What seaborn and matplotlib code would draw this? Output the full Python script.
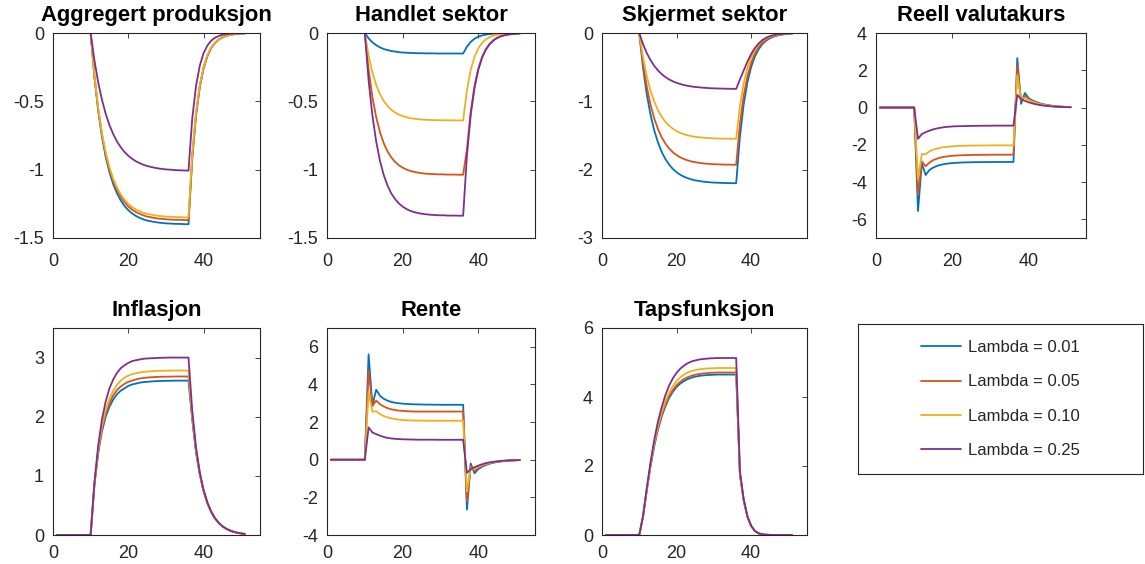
import matplotlib
matplotlib.use("Agg")
import matplotlib.pyplot as plt
import pandas as pd
import seaborn as sns
from matplotlib.lines import Line2D
from matplotlib.ticker import FuncFormatter

# Quarters of the simulation
periods = list(range(1, 52))

lambda_labels = ["Lambda = 0.01", "Lambda = 0.05", "Lambda = 0.10", "Lambda = 0.25"]
line_colors = ["#0072BD", "#D95319", "#EDB120", "#7E2F8E"]

# ---- Aggregert produksjon ----
prod_001 = [0, 0, 0, 0, 0, 0, 0, 0, 0, 0,
            -0.320, -0.567, -0.759, -0.906, -1.018, -1.106, -1.173, -1.225, -1.266, -1.296,
            -1.320, -1.338, -1.352, -1.364, -1.372, -1.378, -1.383, -1.387, -1.390, -1.393,
            -1.394, -1.396, -1.397, -1.397, -1.399, -1.399,
            -0.920, -0.605, -0.398, -0.260, -0.171, -0.112, -0.074, -0.049, -0.032, -0.021,
            -0.014, -0.009, -0.006, -0.004, -0.003]
prod_005 = [0, 0, 0, 0, 0, 0, 0, 0, 0, 0,
            -0.314, -0.555, -0.743, -0.886, -0.996, -1.082, -1.148, -1.199, -1.238, -1.269,
            -1.292, -1.310, -1.323, -1.334, -1.343, -1.348, -1.354, -1.358, -1.360, -1.363,
            -1.365, -1.366, -1.367, -1.367, -1.369, -1.369,
            -0.900, -0.592, -0.389, -0.255, -0.167, -0.110, -0.073, -0.048, -0.032, -0.021,
            -0.014, -0.009, -0.005, -0.004, -0.003]
prod_010 = [0, 0, 0, 0, 0, 0, 0, 0, 0, 0,
            -0.309, -0.547, -0.732, -0.873, -0.981, -1.067, -1.131, -1.181, -1.220, -1.250,
            -1.273, -1.291, -1.304, -1.315, -1.323, -1.328, -1.334, -1.338, -1.341, -1.343,
            -1.345, -1.346, -1.347, -1.347, -1.349, -1.349,
            -0.887, -0.583, -0.383, -0.251, -0.165, -0.108, -0.072, -0.047, -0.031, -0.020,
            -0.014, -0.009, -0.005, -0.004, -0.003]
prod_025 = [0, 0, 0, 0, 0, 0, 0, 0, 0, 0,
            -0.199, -0.360, -0.488, -0.591, -0.674, -0.740, -0.794, -0.836, -0.871, -0.898,
            -0.920, -0.938, -0.952, -0.964, -0.973, -0.980, -0.986, -0.991, -0.995, -0.998,
            -1.000, -1.002, -1.004, -1.005, -1.006, -1.007,
            -0.625, -0.387, -0.239, -0.148, -0.092, -0.057, -0.035, -0.022, -0.013, -0.008,
            -0.005, -0.003, -0.002, -0.001, -0.001]

# ---- Handlet sektor ----
trad_001 = [0, 0, 0, 0, 0, 0, 0, 0, 0, 0,
            -0.039, -0.068, -0.089, -0.105, -0.117, -0.125, -0.132, -0.136, -0.140, -0.143,
            -0.144, -0.146, -0.147, -0.148, -0.148, -0.149, -0.149, -0.149, -0.150, -0.150,
            -0.150, -0.150, -0.150, -0.150, -0.150, -0.150,
            -0.100, -0.065, -0.042, -0.027, -0.018, -0.012, -0.008, -0.005, -0.003, -0.002,
            -0.001, -0.001, 0, 0, 0]
trad_005 = [0, 0, 0, 0, 0, 0, 0, 0, 0, 0,
            -0.269, -0.468, -0.615, -0.725, -0.806, -0.866, -0.910, -0.943, -0.968, -0.985,
            -0.999, -1.009, -1.016, -1.021, -1.026, -1.029, -1.031, -1.032, -1.034, -1.034,
            -1.035, -1.036, -1.036, -1.036, -1.037, -1.037,
            -0.850, -0.575, -0.390, -0.262, -0.176, -0.118, -0.080, -0.053, -0.035, -0.024,
            -0.016, -0.011, -0.007, -0.005, -0.003]
trad_010 = [0, 0, 0, 0, 0, 0, 0, 0, 0, 0,
            -0.166, -0.289, -0.380, -0.447, -0.497, -0.534, -0.562, -0.582, -0.597, -0.608,
            -0.616, -0.623, -0.627, -0.630, -0.633, -0.635, -0.636, -0.637, -0.638, -0.638,
            -0.639, -0.639, -0.639, -0.639, -0.640, -0.640,
            -0.420, -0.270, -0.175, -0.113, -0.073, -0.047, -0.030, -0.019, -0.012, -0.008,
            -0.005, -0.003, -0.002, -0.001, -0.001]
trad_025 = [0, 0, 0, 0, 0, 0, 0, 0, 0, 0,
            -0.346, -0.603, -0.793, -0.935, -1.039, -1.116, -1.174, -1.215, -1.247, -1.270,
            -1.288, -1.301, -1.310, -1.317, -1.322, -1.326, -1.329, -1.331, -1.333, -1.334,
            -1.334, -1.336, -1.336, -1.336, -1.337, -1.337,
            -0.896, -0.600, -0.402, -0.270, -0.181, -0.122, -0.082, -0.055, -0.036, -0.024,
            -0.016, -0.011, -0.008, -0.005, -0.004]

# ---- Skjermet sektor ----
shel_001 = [0, 0, 0, 0, 0, 0, 0, 0, 0, 0,
            -0.504, -0.891, -1.192, -1.423, -1.599, -1.738, -1.844, -1.925, -1.989, -2.037,
            -2.075, -2.103, -2.125, -2.143, -2.156, -2.165, -2.174, -2.180, -2.185, -2.189,
            -2.191, -2.193, -2.196, -2.196, -2.198, -2.198,
            -1.520, -1.049, -0.726, -0.502, -0.345, -0.240, -0.165, -0.114, -0.079, -0.055,
            -0.037, -0.026, -0.018, -0.013, -0.009]
shel_005 = [0, 0, 0, 0, 0, 0, 0, 0, 0, 0,
            -0.442, -0.782, -1.046, -1.249, -1.403, -1.525, -1.617, -1.689, -1.745, -1.787,
            -1.820, -1.845, -1.864, -1.880, -1.891, -1.899, -1.907, -1.913, -1.916, -1.920,
            -1.922, -1.924, -1.926, -1.926, -1.928, -1.928,
            -1.334, -0.921, -0.637, -0.440, -0.303, -0.210, -0.145, -0.100, -0.069, -0.048,
            -0.033, -0.023, -0.015, -0.012, -0.008]
shel_010 = [0, 0, 0, 0, 0, 0, 0, 0, 0, 0,
            -0.355, -0.628, -0.840, -1.003, -1.127, -1.225, -1.299, -1.356, -1.401, -1.435,
            -1.462, -1.482, -1.497, -1.510, -1.519, -1.525, -1.531, -1.536, -1.539, -1.542,
            -1.544, -1.545, -1.547, -1.547, -1.548, -1.548,
            -1.071, -0.739, -0.512, -0.353, -0.243, -0.169, -0.116, -0.081, -0.056, -0.039,
            -0.026, -0.019, -0.012, -0.009, -0.006]
shel_025 = [0, 0, 0, 0, 0, 0, 0, 0, 0, 0,
            -0.162, -0.292, -0.396, -0.480, -0.547, -0.601, -0.645, -0.679, -0.707, -0.729,
            -0.747, -0.762, -0.773, -0.782, -0.790, -0.795, -0.800, -0.804, -0.808, -0.810,
            -0.812, -0.813, -0.815, -0.816, -0.817, -0.818,
            -0.680, -0.550, -0.420, -0.310, -0.220, -0.155, -0.105, -0.070, -0.047, -0.031,
            -0.020, -0.013, -0.008, -0.005, -0.003]

# ---- Reell valutakurs ----
rer_001 = [0, 0, 0, 0, 0, 0, 0, 0, 0, 0,
           -5.55, -3.00, -3.62, -3.35, -3.22, -3.13, -3.07, -3.03, -3.00, -2.98,
           -2.965, -2.955, -2.945, -2.94, -2.935, -2.93, -2.93, -2.925, -2.925, -2.925,
           -2.92, -2.92, -2.92, -2.92, -2.92, -2.92,
           2.65, 0.20, 0.78, 0.50, 0.38, 0.29, 0.22, 0.17, 0.13, 0.10,
           0.075, 0.057, 0.043, 0.033, 0.025]
rer_005 = [0, 0, 0, 0, 0, 0, 0, 0, 0, 0,
           -4.70, -2.90, -3.15, -2.95, -2.82, -2.74, -2.68, -2.64, -2.61, -2.59,
           -2.575, -2.565, -2.555, -2.55, -2.545, -2.54, -2.54, -2.535, -2.535, -2.53,
           -2.53, -2.53, -2.53, -2.53, -2.53, -2.53,
           2.25, 0.35, 0.62, 0.45, 0.34, 0.26, 0.20, 0.15, 0.115, 0.088,
           0.067, 0.051, 0.039, 0.030, 0.023]
rer_010 = [0, 0, 0, 0, 0, 0, 0, 0, 0, 0,
           -3.85, -2.50, -2.50, -2.35, -2.26, -2.20, -2.15, -2.12, -2.10, -2.08,
           -2.065, -2.055, -2.05, -2.045, -2.04, -2.04, -2.035, -2.035, -2.035, -2.03,
           -2.03, -2.03, -2.03, -2.03, -2.03, -2.03,
           1.75, 0.45, 0.52, 0.40, 0.31, 0.24, 0.18, 0.14, 0.105, 0.080,
           0.061, 0.047, 0.036, 0.027, 0.021]
rer_025 = [0, 0, 0, 0, 0, 0, 0, 0, 0, 0,
           -1.68, -1.42, -1.32, -1.24, -1.17, -1.12, -1.08, -1.05, -1.03, -1.015,
           -1.005, -1.00, -0.995, -0.99, -0.985, -0.98, -0.98, -0.975, -0.975, -0.975,
           -0.97, -0.97, -0.97, -0.97, -0.97, -0.97,
           0.68, 0.45, 0.36, 0.28, 0.22, 0.17, 0.13, 0.10, 0.077, 0.059,
           0.045, 0.035, 0.027, 0.020, 0.016]

# ---- Inflasjon ----
infl_001 = [0, 0, 0, 0, 0, 0, 0, 0, 0, 0,
            0.84, 1.38, 1.75, 2.00, 2.17, 2.29, 2.38, 2.44, 2.48, 2.52,
            2.545, 2.56, 2.575, 2.585, 2.59, 2.595, 2.60, 2.603, 2.605, 2.607,
            2.608, 2.609, 2.61, 2.61, 2.61, 2.61,
            1.95, 1.40, 1.02, 0.74, 0.54, 0.39, 0.28, 0.205, 0.147, 0.105,
            0.075, 0.053, 0.037, 0.026, 0.018]
infl_005 = [0, 0, 0, 0, 0, 0, 0, 0, 0, 0,
            0.85, 1.41, 1.79, 2.05, 2.23, 2.36, 2.45, 2.51, 2.555, 2.59,
            2.61, 2.63, 2.645, 2.655, 2.662, 2.667, 2.671, 2.674, 2.676, 2.677,
            2.678, 2.679, 2.68, 2.68, 2.68, 2.68,
            1.98, 1.42, 1.03, 0.75, 0.545, 0.395, 0.285, 0.207, 0.148, 0.106,
            0.076, 0.054, 0.037, 0.026, 0.018]
infl_010 = [0, 0, 0, 0, 0, 0, 0, 0, 0, 0,
            0.86, 1.44, 1.84, 2.11, 2.30, 2.44, 2.54, 2.61, 2.66, 2.695,
            2.72, 2.735, 2.748, 2.757, 2.764, 2.769, 2.772, 2.775, 2.777, 2.778,
            2.779, 2.78, 2.78, 2.78, 2.78, 2.78,
            2.01, 1.44, 1.04, 0.755, 0.548, 0.397, 0.287, 0.208, 0.149, 0.107,
            0.076, 0.054, 0.038, 0.026, 0.018]
infl_025 = [0, 0, 0, 0, 0, 0, 0, 0, 0, 0,
            0.885, 1.51, 1.95, 2.26, 2.48, 2.63, 2.74, 2.82, 2.87, 2.91,
            2.94, 2.955, 2.967, 2.979, 2.985, 2.988, 2.991, 2.994, 2.997, 2.998,
            3.0, 3.0, 3.0, 3.0, 3.0, 3.0,
            2.10, 1.48, 1.06, 0.765, 0.553, 0.40, 0.289, 0.209, 0.150, 0.107,
            0.077, 0.055, 0.038, 0.026, 0.018]

# ---- Rente ----
rate_001 = [0, 0, 0, 0, 0, 0, 0, 0, 0, 0,
            5.60, 2.90, 3.72, 3.40, 3.24, 3.14, 3.07, 3.03, 3.00, 2.98,
            2.965, 2.955, 2.945, 2.94, 2.935, 2.93, 2.93, 2.925, 2.925, 2.92,
            2.92, 2.92, 2.92, 2.92, 2.92, 2.92,
            -2.65, -0.20, -0.72, -0.50, -0.37, -0.28, -0.21, -0.16, -0.12, -0.09,
            -0.068, -0.050, -0.038, -0.028, -0.020]
rate_005 = [0, 0, 0, 0, 0, 0, 0, 0, 0, 0,
            4.75, 2.85, 3.15, 2.95, 2.83, 2.74, 2.68, 2.64, 2.61, 2.595,
            2.58, 2.57, 2.565, 2.56, 2.56, 2.56, 2.56, 2.56, 2.56, 2.56,
            2.56, 2.56, 2.56, 2.56, 2.56, 2.56,
            -2.20, -0.35, -0.58, -0.43, -0.32, -0.24, -0.18, -0.14, -0.105, -0.08,
            -0.060, -0.045, -0.034, -0.026, -0.020]
rate_010 = [0, 0, 0, 0, 0, 0, 0, 0, 0, 0,
            3.60, 2.55, 2.58, 2.42, 2.32, 2.25, 2.20, 2.16, 2.13, 2.11,
            2.10, 2.09, 2.085, 2.08, 2.075, 2.075, 2.07, 2.07, 2.07, 2.07,
            2.07, 2.07, 2.07, 2.07, 2.07, 2.07,
            -1.70, -0.45, -0.50, -0.38, -0.29, -0.22, -0.17, -0.13, -0.10, -0.075,
            -0.057, -0.043, -0.033, -0.025, -0.019]
rate_025 = [0, 0, 0, 0, 0, 0, 0, 0, 0, 0,
            1.72, 1.45, 1.36, 1.28, 1.21, 1.16, 1.13, 1.11, 1.095, 1.085,
            1.08, 1.075, 1.07, 1.065, 1.065, 1.065, 1.065, 1.065, 1.06, 1.06,
            1.06, 1.06, 1.06, 1.06, 1.06, 1.06,
            -0.70, -0.50, -0.40, -0.31, -0.24, -0.18, -0.14, -0.11, -0.083, -0.064,
            -0.049, -0.037, -0.028, -0.022, -0.017]

# ---- Tapsfunksjon ----
loss_001 = [0, 0, 0, 0, 0, 0, 0, 0, 0, 0,
            0.52, 1.28, 1.98, 2.57, 3.05, 3.43, 3.73, 3.97, 4.15, 4.29,
            4.39, 4.46, 4.52, 4.56, 4.59, 4.61, 4.625, 4.635, 4.64, 4.645,
            4.65, 4.65, 4.65, 4.65, 4.65, 4.65,
            1.75, 1.00, 0.53, 0.26, 0.115, 0.048, 0.019, 0.007, 0.003, 0.001,
            0, 0, 0, 0, 0]
loss_005 = [0, 0, 0, 0, 0, 0, 0, 0, 0, 0,
            0.53, 1.30, 2.00, 2.60, 3.09, 3.48, 3.78, 4.02, 4.20, 4.34,
            4.44, 4.52, 4.575, 4.615, 4.645, 4.665, 4.68, 4.69, 4.70, 4.705,
            4.71, 4.71, 4.71, 4.71, 4.71, 4.71,
            1.78, 1.02, 0.54, 0.265, 0.117, 0.049, 0.019, 0.007, 0.003, 0.001,
            0, 0, 0, 0, 0]
loss_010 = [0, 0, 0, 0, 0, 0, 0, 0, 0, 0,
            0.54, 1.32, 2.03, 2.65, 3.15, 3.55, 3.87, 4.12, 4.31, 4.46,
            4.57, 4.65, 4.71, 4.75, 4.78, 4.80, 4.815, 4.825, 4.83, 4.835,
            4.84, 4.84, 4.84, 4.84, 4.84, 4.84,
            1.80, 1.03, 0.545, 0.267, 0.118, 0.049, 0.020, 0.008, 0.003, 0.001,
            0, 0, 0, 0, 0]
loss_025 = [0, 0, 0, 0, 0, 0, 0, 0, 0, 0,
            0.55, 1.35, 2.10, 2.75, 3.28, 3.70, 4.05, 4.33, 4.54, 4.70,
            4.82, 4.91, 4.98, 5.03, 5.06, 5.085, 5.10, 5.11, 5.12, 5.125,
            5.13, 5.13, 5.13, 5.13, 5.13, 5.13,
            1.85, 1.05, 0.55, 0.27, 0.12, 0.05, 0.020, 0.008, 0.003, 0.001,
            0, 0, 0, 0, 0]

panel_titles = ["Aggregert produksjon", "Handlet sektor", "Skjermet sektor",
                "Reell valutakurs", "Inflasjon", "Rente", "Tapsfunksjon"]
panel_series = [
    [prod_001, prod_005, prod_010, prod_025],
    [trad_001, trad_005, trad_010, trad_025],
    [shel_001, shel_005, shel_010, shel_025],
    [rer_001, rer_005, rer_010, rer_025],
    [infl_001, infl_005, infl_010, infl_025],
    [rate_001, rate_005, rate_010, rate_025],
    [loss_001, loss_005, loss_010, loss_025],
]
panel_ylims = [(-1.5, 0), (-1.5, 0), (-3, 0), (-7, 4), (0, 3.5), (-4, 7), (0, 6)]
panel_yticks = [
    [-1.5, -1, -0.5, 0],
    [-1.5, -1, -0.5, 0],
    [-3, -2, -1, 0],
    [-6, -4, -2, 0, 2, 4],
    [0, 1, 2, 3],
    [-4, -2, 0, 2, 4, 6],
    [0, 2, 4, 6],
]
x_ticks = [0, 20, 40]

sns.set_theme(style="white")
plt.rcParams["font.family"] = ["Liberation Sans", "DejaVu Sans"]
plt.rcParams["axes.unicode_minus"] = False

W, H = 1145, 564
fig = plt.figure(figsize=(W / 100, H / 100), dpi=100)
fig.patch.set_facecolor("white")

# axes boxes in pixels: (left, top, right, bottom) and x tick-label pad per row
boxes_px = [
    (53, 33, 260, 238), (327, 33, 535, 238), (602, 33, 807, 238), (876, 33, 1086, 238),
    (53, 328, 260, 535), (327, 328, 535, 535), (602, 328, 807, 535),
]
x_pads = [11, 11, 11, 11, 7.5, 7.5, 7.5]
dark = "#262626"
fmt = FuncFormatter(lambda v, _: f"{v:g}")

for title, series, ylim, yticks, (l, t, r, b), xpad in zip(
        panel_titles, panel_series, panel_ylims, panel_yticks, boxes_px, x_pads):
    ax = fig.add_axes([l / W, 1 - b / H, (r - l) / W, (b - t) / H])
    frame = pd.DataFrame({
        "t": periods * len(series),
        "verdi": [v for s in series for v in s],
        "lambda": [lab for lab, s in zip(lambda_labels, series) for _ in s],
    })
    sns.lineplot(data=frame, x="t", y="verdi", hue="lambda", hue_order=lambda_labels,
                 palette=line_colors, estimator=None, legend=False, linewidth=1.3, ax=ax)
    ax.set_xlim(0, 55)
    ax.set_ylim(*ylim)
    ax.set_xticks(x_ticks)
    ax.set_yticks(yticks)
    ax.xaxis.set_major_formatter(fmt)
    ax.yaxis.set_major_formatter(fmt)
    ax.set_xlabel("")
    ax.set_ylabel("")
    ax.set_facecolor("white")
    ax.grid(False)
    for sp in ax.spines.values():
        sp.set_visible(True)
        sp.set_color(dark)
        sp.set_linewidth(0.8)
    ax.tick_params(direction="in", top=True, right=True, length=3.5, width=0.6,
                   colors=dark, labelsize=13)
    ax.tick_params(axis="x", pad=xpad)
    ax.tick_params(axis="y", pad=6.5)
    ax.set_title(title, fontsize=15.8, fontweight="bold", color="black", pad=8.3)

# Legend in its own framed box
lax = fig.add_axes([858 / W, 1 - 474 / H, 285 / W, 150 / H])
lax.set_xticks([])
lax.set_yticks([])
lax.set_facecolor("white")
for sp in lax.spines.values():
    sp.set_visible(True)
    sp.set_color(dark)
    sp.set_linewidth(0.8)
handles = [Line2D([], [], color=c, linewidth=1.3) for c in line_colors]
leg = lax.legend(handles, lambda_labels, loc="center", frameon=False, fontsize=12,
                 handlelength=2.4, handletextpad=0.4, labelspacing=1.15)
for txt in leg.get_texts():
    txt.set_color(dark)

fig.savefig("out.png", dpi=100, facecolor="white")
